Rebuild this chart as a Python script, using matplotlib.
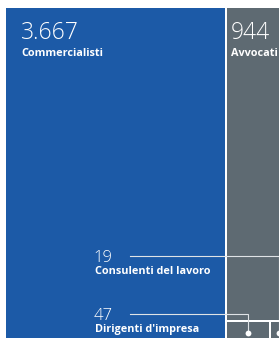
import matplotlib.pyplot as plt
from matplotlib.patches import Rectangle

categories = ["Commercialisti", "Avvocati", "Dirigenti d'impresa", "Consulenti del lavoro"]
values = [3667, 944, 47, 19]
value_labels = ["3.667", "944", "47", "19"]

blue = "#1c5aa7"
grey = "#5e6a72"
line_col = "#dfe3e6"
FONT = "Open Sans"

# layout in pixels (the treemap goes on beyond the visible crop)
UNIT = 0.03951   # value per px^2
H = 420          # full height of the treemap
X0, Y0 = 5, 7
GAP = 1
COL2_W = 76
ROW_H = 27

fig = plt.figure(figsize=(2.79, 3.38), dpi=100)
ax = fig.add_axes([0, 0, 1, 1])
ax.set_xlim(0, 279)
ax.set_ylim(338, 0)
ax.axis("off")


def cell(x, y, w, h, color):
    ax.add_patch(Rectangle((x + GAP, y + GAP), w - 2 * GAP, h - 2 * GAP,
                           facecolor=color, edgecolor="none"))


# column 1: Commercialisti
w1 = values[0] / (UNIT * H)
cell(X0, Y0, w1, H, blue)

# column 2: Avvocati on top, then a row of small ones
x2 = X0 + w1
h_avv = values[1] / (UNIT * COL2_W)
cell(x2, Y0, COL2_W, h_avv, grey)

big_pos = [(X0, Y0, 15), (x2, Y0, 4)]
for (x, y, pad), num, name in zip(big_pos, value_labels[:2], categories[:2]):
    ax.text(x + GAP + pad, y + 32, num, color="white", fontsize=16.5,
            family=FONT, fontweight="light", va="baseline")
    ax.text(x + GAP + pad, y + 48.5, name, color="white", fontsize=7.8,
            family=FONT, fontweight="bold", va="baseline")

row_y = Y0 + h_avv
xs = x2
centers = []
for v in values[2:]:
    w = v / (UNIT * ROW_H)
    cell(xs, row_y, w, ROW_H, grey)
    centers.append(xs + w / 2)
    xs += w

# callouts for the small cells
label_y = [313.7, 255.7]
for cx, ly, num, name in zip(centers, label_y, value_labels[2:], categories[2:]):
    dot_y = row_y + 12
    ax.plot([130, cx, cx], [ly, ly, dot_y], color=line_col, lw=0.8,
            solid_joinstyle="miter")
    ax.plot(cx, dot_y, "o", ms=4.2, color="white", mec="none")
    ax.text(93.5, ly + 6, num, color="white", fontsize=12,
            family=FONT, fontweight="light", va="baseline")
    ax.text(95, ly + 18, name, color="white", fontsize=7.8,
            family=FONT, fontweight="bold", va="baseline")

fig.savefig("out.png", dpi=100)
